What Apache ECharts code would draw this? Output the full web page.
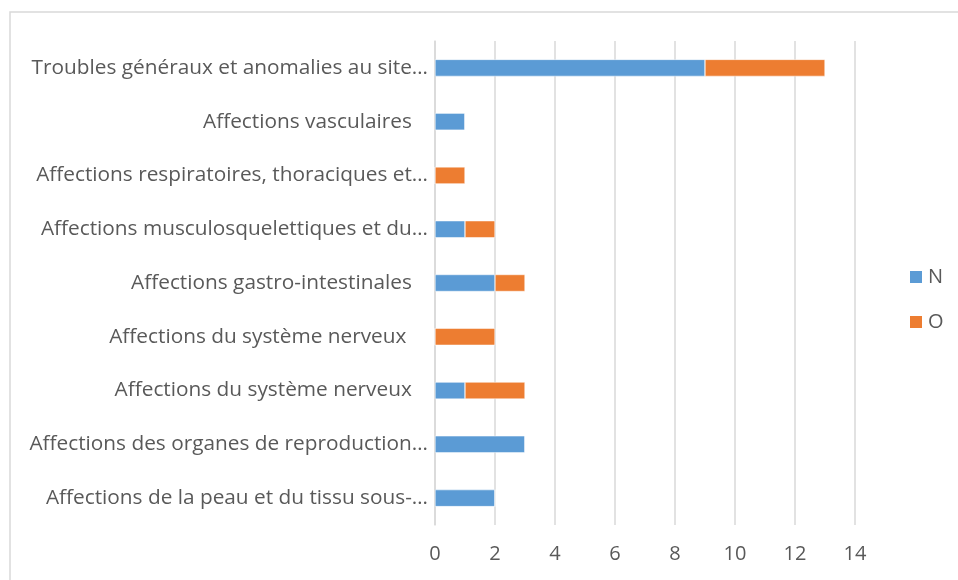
<!DOCTYPE html>
<html>
<head>
<meta charset="utf-8">
<script src="https://cdn.jsdelivr.net/npm/echarts@6/dist/echarts.min.js"></script>
<style>
  html, body { margin: 0; padding: 0; background: #fff; }
  #chart { width: 958px; height: 580px; }
</style>
</head>
<body>
<div id="chart"></div>
<script>
// categories, top to bottom as shown
const categories = [
  'Troubles généraux et anomalies au site…',
  'Affections vasculaires   ',
  'Affections respiratoires, thoraciques et…',
  'Affections musculosquelettiques et du…',
  'Affections gastro-intestinales   ',
  'Affections du système nerveux    ',
  'Affections du système nerveux   ',
  'Affections des organes de reproduction…',
  'Affections de la peau et du tissu sous-…'
];
const seriesNames = ['N', 'O'];
const valuesN = [9, 1, 0, 1, 2, 0, 1, 3, 2];
const valuesO = [4, 0, 1, 1, 1, 2, 2, 0, 0];
const xTicks = [0, 2, 4, 6, 8, 10, 12, 14];

const colors = ['#5b9bd5', '#ed7d31'];
const textColor = '#595959';
const fontFamily = 'Open Sans, Noto Sans, sans-serif';

const chart = echarts.init(document.getElementById('chart'));

const option = {
  animation: false,
  textStyle: { fontFamily: fontFamily },
  graphic: [{
    type: 'rect',
    shape: { x: 10, y: 12, width: 970, height: 600 },
    style: { fill: 'none', stroke: '#d9d9d9', lineWidth: 1.5 },
    silent: true
  }],
  grid: { left: 435, right: 103, top: 41, bottom: 55 },
  legend: {
    orient: 'vertical',
    left: 908,
    top: 267,
    padding: 0,
    itemWidth: 14,
    itemHeight: 14,
    itemGap: 25,
    icon: 'rect',
    data: seriesNames,
    textStyle: { color: textColor, fontSize: 20, fontFamily: fontFamily }
  },
  xAxis: {
    type: 'value',
    min: xTicks[0],
    max: xTicks[xTicks.length - 1],
    interval: 2,
    axisLine: { show: false },
    axisTick: { show: false },
    splitLine: { lineStyle: { color: '#d9d9d9', width: 1.5 } },
    axisLabel: { color: textColor, fontSize: 20, margin: 19, fontFamily: fontFamily }
  },
  yAxis: {
    type: 'category',
    inverse: true,
    data: categories,
    axisLine: { lineStyle: { color: '#d9d9d9', width: 1.5 } },
    axisTick: { show: false },
    axisLabel: { color: textColor, fontSize: 20.8, margin: 7, fontFamily: fontFamily }
  },
  series: [{
    name: seriesNames[0],
    type: 'bar',
    stack: 'total',
    barWidth: 17,
    data: valuesN,
    itemStyle: { color: colors[0], borderColor: '#fff', borderWidth: 0.5 }
  }, {
    name: seriesNames[1],
    type: 'bar',
    stack: 'total',
    barWidth: 17,
    data: valuesO,
    itemStyle: { color: colors[1], borderColor: '#fff', borderWidth: 0.5 }
  }]
};

chart.setOption(option);
</script>
</body>
</html>
